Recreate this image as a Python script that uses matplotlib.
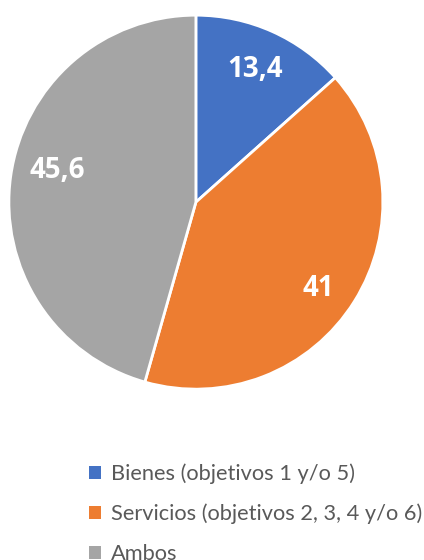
import math
import matplotlib.pyplot as plt
from matplotlib.patches import Patch

categories = ["Bienes (objetivos 1 y/o 5)", "Servicios (objetivos 2, 3, 4 y/o 6)", "Ambos"]
values = [13.4, 41, 45.6]
labels = ["13,4", "41", "45,6"]
colors = ["#4472C4", "#ED7D31", "#A5A5A5"]

plt.rcParams['font.family'] = ['Lato', 'DejaVu Sans']

fig = plt.figure(figsize=(4.24, 5.6), dpi=100)
ax = fig.add_axes([0.021, 0.305, 0.882, 0.668])

wedges, _ = ax.pie(values, colors=colors, startangle=90, counterclock=False,
                   wedgeprops=dict(edgecolor="white", linewidth=2))
# Excel-style "best fit" label spots, a bit off the wedge centre line
offsets = [(0.0, 0.78), (-3.0, 0.80), (-5.0, 0.76)]
for w, lab, (dang, dist) in zip(wedges, labels, offsets):
    ang = math.radians((w.theta1 + w.theta2) / 2 + dang)
    ax.text(dist * math.cos(ang), dist * math.sin(ang), lab, ha="center", va="center",
            color="white", fontsize=20, fontweight="bold", family=["Open Sans", "DejaVu Sans"])
ax.set_xlim(-1, 1)
ax.set_ylim(-1, 1)
ax.set_aspect("equal")

handles = [Patch(facecolor=c, edgecolor="none") for c in colors]
leg = fig.legend(handles, categories, loc="upper left", bbox_to_anchor=(0.19, 0.188),
                 frameon=False, fontsize=15.7, handlelength=0.55, handleheight=0.55,
                 handletextpad=0.45, labelspacing=0.9, borderaxespad=0)
for t in leg.get_texts():
    t.set_color("#595959")

fig.savefig("out.png", dpi=100)
